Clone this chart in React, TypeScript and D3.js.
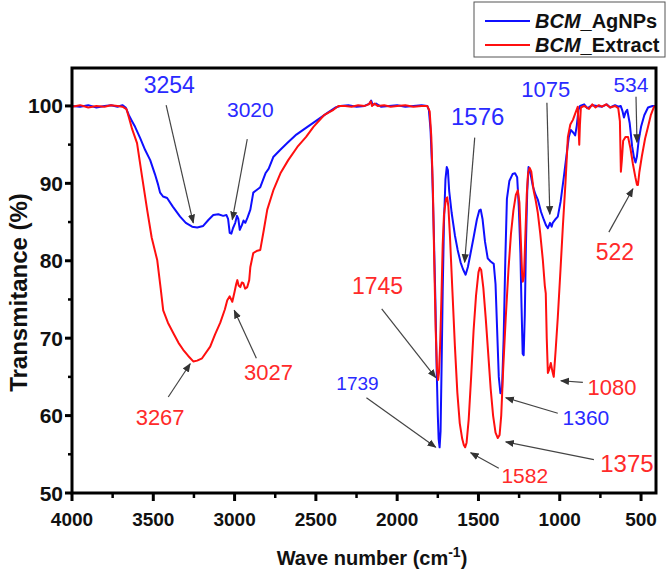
import React from "react";
import * as d3 from "d3";

// ---------- DATA ----------
const agnpsWave = [
  4000, 3950, 3900, 3850, 3800, 3760, 3720, 3690, 3670, 3650, 3630, 3612, 3580, 3550, 3519, 3490, 3470, 3458, 3440, 3415,
  3380, 3335, 3300, 3261, 3230, 3193, 3160, 3131, 3100, 3070, 3050, 3040, 3030, 3020, 3010, 2996, 2985, 2977, 2968, 2955,
  2945, 2934, 2920, 2903, 2885, 2860, 2842, 2810, 2790, 2762, 2720, 2676, 2620, 2552, 2490, 2429, 2380, 2350, 2300, 2250,
  2200, 2170, 2160, 2150, 2130, 2100, 2050, 2000, 1950, 1900, 1850, 1815, 1805, 1795, 1785, 1775, 1765, 1757, 1750, 1745,
  1739, 1733, 1727, 1720, 1712, 1703, 1695, 1688, 1680, 1665, 1645, 1628, 1610, 1595, 1579, 1565, 1550, 1530, 1510, 1495,
  1486, 1475, 1460, 1443, 1425, 1406, 1395, 1385, 1375, 1365, 1355, 1345, 1335, 1325, 1310, 1290, 1275, 1262, 1252, 1242,
  1235, 1228, 1222, 1215, 1208, 1200, 1192, 1182, 1165, 1150, 1135, 1115, 1098, 1085, 1073, 1060, 1050, 1043, 1025, 1012,
  995, 975, 955, 944, 932, 915, 905, 895, 885, 875, 850, 830, 800, 770, 740, 710, 690, 660, 640, 625,
  615, 605, 595, 585, 570, 555, 543, 534, 525, 515, 500, 480, 457, 430, 408,
];
const agnpsT = [
  100.0, 99.9, 100.1, 99.8, 100.0, 100.1, 99.9, 100.1, 99.8, 98.8, 98.0, 97.3, 95.8, 94.3, 93.0, 91.2, 89.8, 88.8, 88.3, 88.1,
  87.0, 85.7, 84.9, 84.4, 84.3, 84.5, 85.3, 85.9, 86.0, 85.8, 85.9, 85.4, 83.6, 83.5, 84.2, 84.9, 85.8, 85.4, 84.0, 84.6,
  85.2, 84.9, 85.6, 86.6, 88.8, 89.2, 89.5, 91.3, 91.9, 93.4, 94.3, 95.2, 96.3, 97.3, 98.2, 99.1, 99.8, 100.0, 100.1, 99.9,
  100.0, 100.3, 100.7, 100.1, 100.3, 99.9, 100.0, 100.1, 99.9, 100.0, 100.1, 100.0, 99.5, 97.0, 92.0, 84.0, 75.0, 66.0, 60.0, 57.0,
  55.9, 58.0, 66.0, 76.0, 85.0, 90.5, 92.1, 91.7, 89.0, 86.2, 83.3, 81.4, 79.8, 78.9, 78.2, 79.2, 80.8, 83.0, 85.3, 86.5,
  86.6, 85.4, 82.5, 80.3, 79.9, 79.6, 77.0, 71.0, 65.0, 62.9, 63.5, 70.0, 80.0, 88.0, 90.3, 91.2, 91.3, 90.8, 87.0, 81.0,
  74.0, 68.0, 67.8, 73.0, 82.0, 89.0, 92.1, 91.5, 89.6, 88.6, 87.9, 86.3, 85.3, 84.6, 84.2, 84.9, 84.4, 84.9, 85.4, 85.7,
  87.6, 90.8, 94.2, 96.0, 96.9, 96.5, 96.2, 97.5, 99.5, 100.0, 100.2, 99.7, 100.1, 100.0, 99.9, 100.2, 99.8, 100.1, 99.9, 100.0,
  99.4, 98.5, 99.2, 99.5, 97.8, 94.8, 93.3, 92.7, 93.5, 95.5, 97.3, 98.8, 99.8, 100.0, 100.0,
];

const extractWave = [
  4000, 3950, 3900, 3850, 3800, 3760, 3720, 3690, 3665, 3650, 3630, 3600, 3570, 3538, 3510, 3476, 3455, 3439, 3410, 3378,
  3345, 3316, 3285, 3254, 3230, 3200, 3150, 3120, 3088, 3060, 3045, 3030, 3014, 3000, 2990, 2983, 2975, 2965, 2955, 2946,
  2935, 2922, 2910, 2903, 2885, 2860, 2842, 2820, 2799, 2760, 2718, 2670, 2614, 2560, 2515, 2450, 2392, 2361, 2320, 2280,
  2240, 2200, 2175, 2162, 2155, 2140, 2120, 2080, 2040, 2000, 1950, 1900, 1850, 1815, 1800, 1790, 1780, 1772, 1763, 1755,
  1748, 1743, 1736, 1728, 1720, 1712, 1700, 1692, 1685, 1675, 1660, 1645, 1630, 1615, 1600, 1590, 1582, 1573, 1560, 1545,
  1530, 1515, 1500, 1492, 1483, 1470, 1455, 1440, 1425, 1410, 1395, 1381, 1370, 1360, 1348, 1332, 1315, 1300, 1285, 1270,
  1258, 1248, 1240, 1232, 1227, 1220, 1212, 1203, 1195, 1185, 1175, 1160, 1148, 1135, 1120, 1104, 1092, 1086, 1080, 1073,
  1064, 1055, 1046, 1037, 1025, 1012, 995, 981, 965, 950, 935, 919, 905, 889, 884, 880, 876, 870, 850, 820,
  800, 780, 760, 740, 715, 690, 660, 640, 630, 624, 618, 610, 595, 580, 565, 550, 535, 525, 519, 510,
  495, 475, 457, 440, 420, 408,
];
const extractT = [
  99.9, 100.1, 99.8, 100.0, 99.9, 100.1, 100.0, 99.9, 99.6, 98.5, 97.0, 95.2, 91.0, 86.6, 83.0, 80.1, 76.5, 73.6, 72.0, 70.7,
  69.4, 68.5, 67.7, 67.0, 67.1, 67.4, 68.9, 70.5, 72.0, 73.7, 74.9, 75.4, 74.7, 76.0, 77.0, 77.5, 76.8, 76.6, 77.2, 77.1,
  76.4, 76.6, 77.5, 79.2, 81.0, 81.3, 81.4, 84.0, 86.6, 89.2, 91.3, 93.0, 94.7, 96.0, 97.3, 98.8, 99.5, 100.0, 100.0, 99.9,
  100.1, 100.0, 100.2, 100.6, 100.0, 100.3, 100.0, 100.1, 99.9, 100.0, 100.1, 99.9, 100.0, 100.0, 99.3, 96.0, 89.0, 80.0, 71.0, 66.0,
  64.6, 65.5, 69.0, 75.0, 82.0, 86.0, 88.0, 88.2, 87.0, 83.0, 76.0, 69.0, 63.0, 59.0, 57.0, 56.2, 55.9, 56.5, 59.5, 65.0,
  71.0, 75.5, 78.5, 79.1, 78.8, 76.5, 72.5, 68.0, 63.5, 60.0, 57.8, 57.1, 57.5, 60.0, 66.0, 72.7, 79.0, 83.5, 86.5, 88.5,
  89.1, 87.5, 83.0, 78.5, 77.3, 78.0, 83.0, 88.5, 91.3, 92.0, 91.5, 89.0, 87.8, 86.2, 83.5, 80.1, 76.8, 75.8, 70.0, 65.5,
  66.0, 66.8, 65.8, 65.0, 68.5, 72.7, 79.0, 84.4, 90.0, 96.0, 97.6, 98.2, 99.0, 99.9, 97.0, 95.0, 97.5, 99.8, 100.0, 99.6,
  100.2, 99.8, 100.1, 99.9, 100.2, 99.8, 100.0, 99.7, 98.0, 91.5, 93.0, 95.5, 96.0, 96.0, 94.5, 92.5, 90.8, 89.8, 89.8, 91.5,
  93.5, 95.8, 97.3, 98.8, 99.9, 100.0,
];

const xTicks = [4000, 3500, 3000, 2500, 2000, 1500, 1000, 500];
const xMinorTicks = [3750, 3250, 2750, 2250, 1750, 1250, 750];
const yTicks = [50, 60, 70, 80, 90, 100];
const yMinorTicks = [55, 65, 75, 85, 95];

const seriesNames = ["AgNPs", "Extract"];

// peak annotations: label text, series index, label position and arrow (data coords)
const peakLabels = ["3254", "3020", "1576", "1075", "534", "522", "1745", "1739", "3267", "3027", "1360", "1375", "1582", "1080"];
const peakSeries = [0, 0, 0, 0, 0, 1, 1, 0, 1, 1, 0, 1, 1, 1];
const labelAt = [
  [3402, 101.7], [2903, 98.6], [1505, 97.5], [1086, 101.2], [562, 101.8], [661, 80.1], [2121, 75.7],
  [2244, 63.3], [3458, 58.8], [2792, 64.6], [839, 58.8], [587, 52.7], [1215, 51.3], [679, 62.7],
];
const arrowFrom = [
  [3421, 100.1], [2922, 95.7], [1523, 95.9], [1079, 100.4], [531, 101.2], [698, 83.7], [2095, 73.8],
  [2189, 62.3], [3408, 62.4], [2866, 67.4], [1012, 60.3], [790, 54.3], [1375, 53.2], [858, 64.3],
];
const arrowTo = [
  [3254, 84.9], [3014, 85.3], [1585, 79.8], [1061, 86.0], [525, 95.3], [550, 89.3], [1763, 64.9],
  [1763, 55.9], [3273, 66.7], [3002, 73.6], [1332, 62.3], [1332, 56.6], [1548, 55.2], [993, 64.5],
];
const labelSize = [23, 21, 24, 22, 21, 23, 23, 19, 22, 22, 21, 24, 21, 22];

// ---------- LAYOUT ----------
const W = 669;
const H = 571;
const M = { left: 72, right: 656, top: 68, bottom: 493 };
const FONT = "'Liberation Sans', Arial, Helvetica, sans-serif";
const LINE_COLORS = ["#0f0fff", "#ff0f0f"];
const TEXT_COLORS = ["#2a2aff", "#ff2a2a"];

export default function App() {
  const x = d3.scaleLinear().domain([4000, 408]).range([M.left, M.right]);
  const y = d3.scaleLinear().domain([50, 104.9]).range([M.bottom, M.top]);

  const line = d3
    .line<[number, number]>()
    .x((d) => x(d[0]))
    .y((d) => y(d[1]));

  const blue = agnpsWave.map((w, i) => [w, agnpsT[i]] as [number, number]);
  const red = extractWave.map((w, i) => [w, extractT[i]] as [number, number]);

  return (
    <svg
      width={W}
      height={H}
      style={{ position: "absolute", left: 0, top: 0, background: "#fff" }}
      fontFamily={FONT}
    >
      <defs>
        <clipPath id="plotClip">
          <rect x={M.left} y={M.top} width={M.right - M.left} height={M.bottom - M.top} />
        </clipPath>
        <marker id="arrowHead" viewBox="0 0 10 10" refX="9" refY="5" markerWidth="9" markerHeight="9" orient="auto" markerUnits="userSpaceOnUse">
          <path d="M0,1 L10,5 L0,9 z" fill="#333" />
        </marker>
      </defs>
      <rect x={0} y={0} width={W} height={H} fill="#fff" />

      {/* series */}
      <g clipPath="url(#plotClip)" fill="none" strokeWidth={2} strokeLinejoin="round">
        <path d={line(blue) || ""} stroke={LINE_COLORS[0]} />
        <path d={line(red) || ""} stroke={LINE_COLORS[1]} />
      </g>

      {/* frame */}
      <rect
        x={M.left}
        y={M.top}
        width={M.right - M.left}
        height={M.bottom - M.top}
        fill="none"
        stroke="#000"
        strokeWidth={3}
      />

      {/* x ticks */}
      <g>
        {xTicks.map((t) => (
          <g key={"xt" + t}>
            <line x1={x(t)} x2={x(t)} y1={M.bottom} y2={M.bottom + 8} stroke="#000" strokeWidth={3} />
            <text x={x(t)} y={526} textAnchor="middle" fontSize={19} fontWeight="bold" fill="#111">
              {t}
            </text>
          </g>
        ))}
        {xMinorTicks.map((t) => (
          <line key={"xm" + t} x1={x(t)} x2={x(t)} y1={M.bottom} y2={M.bottom + 5} stroke="#000" strokeWidth={2.5} />
        ))}
      </g>

      {/* y ticks */}
      <g>
        {yTicks.map((t) => (
          <g key={"yt" + t}>
            <line x1={M.left - 7} x2={M.left} y1={y(t)} y2={y(t)} stroke="#000" strokeWidth={3} />
            <text x={M.left - 9} y={y(t) + 7.5} textAnchor="end" fontSize={21} fontWeight="bold" fill="#111">
              {t}
            </text>
          </g>
        ))}
        {yMinorTicks.map((t) => (
          <line key={"ym" + t} x1={M.left - 4} x2={M.left} y1={y(t)} y2={y(t)} stroke="#000" strokeWidth={2.5} />
        ))}
      </g>

      {/* axis titles */}
      <text x={372} y={565} textAnchor="middle" fontSize={20} fontWeight="bold" fill="#111">
        Wave number (cm
        <tspan dy={-8} fontSize={14}>-1</tspan>
        <tspan dy={8}>)</tspan>
      </text>
      <text
        transform={`translate(27, ${(M.top + M.bottom) / 2 + 12}) rotate(-90)`}
        textAnchor="middle"
        fontSize={24}
        fontWeight="bold"
        fill="#111"
      >
        Transmitance (%)
      </text>

      {/* annotations */}
      <g>
        {peakLabels.map((lab, i) => (
          <g key={"pk" + i}>
            <line
              x1={x(arrowFrom[i][0])}
              y1={y(arrowFrom[i][1])}
              x2={x(arrowTo[i][0])}
              y2={y(arrowTo[i][1])}
              stroke="#444"
              strokeWidth={1.2}
              markerEnd="url(#arrowHead)"
            />
            <text
              x={x(labelAt[i][0])}
              y={y(labelAt[i][1])}
              textAnchor="middle"
              fontSize={labelSize[i]}
              fill={TEXT_COLORS[peakSeries[i]]}
            >
              {lab}
            </text>
          </g>
        ))}
      </g>

      {/* legend */}
      <g>
        <rect x={474} y={2} width={191} height={55} fill="#fff" stroke="#555" strokeWidth={1} />
        {seriesNames.map((n, i) => (
          <g key={"lg" + i}>
            <line x1={485} x2={530} y1={21 + i * 24} y2={21 + i * 24} stroke={LINE_COLORS[i]} strokeWidth={2} />
            <text x={535} y={28 + i * 24} fontSize={20} fontWeight="bold" fill="#111">
              <tspan fontStyle="italic">BCM</tspan>_{n}
            </text>
          </g>
        ))}
      </g>
    </svg>
  );
}
